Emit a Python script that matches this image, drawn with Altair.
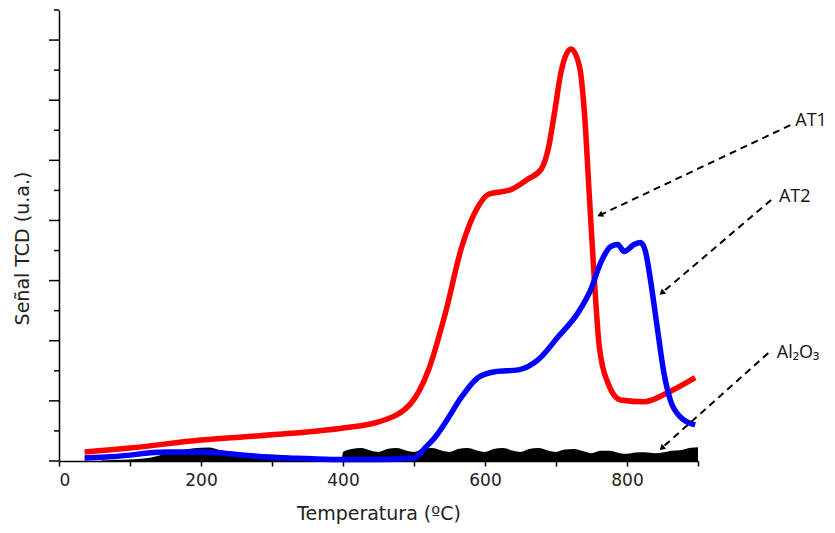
import altair as alt
import pandas as pd

# --- data ---
red_T = [36, 100, 200, 300, 400, 450, 495, 520, 544, 567, 590, 605, 637, 660, 679, 689, 698, 707, 721, 733, 740, 747, 754, 761, 773, 791, 824, 857, 896]
red_v = [0.3, 0.43, 0.7, 0.87, 1.1, 1.3, 1.9, 3.0, 4.9, 7.1, 8.45, 8.87, 9.03, 9.37, 9.7, 10.37, 11.6, 12.93, 13.7, 13.13, 11.6, 8.8, 6.03, 3.8, 2.6, 2.03, 1.97, 2.27, 2.77]

blue_T = [36, 80, 150, 200, 250, 300, 350, 400, 450, 500, 516, 530, 544, 567, 590, 614, 647, 675, 703, 731, 749, 763, 777, 787, 796, 810, 819, 826, 833, 843, 852, 861, 875, 896]
blue_v = [0.1, 0.15, 0.3, 0.3, 0.22, 0.12, 0.08, 0.05, 0.05, 0.1, 0.45, 0.8, 1.27, 2.13, 2.77, 2.97, 3.03, 3.37, 4.13, 4.93, 5.7, 6.6, 7.13, 7.2, 6.97, 7.2, 7.27, 6.97, 6.03, 4.37, 2.93, 2.03, 1.47, 1.2]

black_T = [60, 100, 130, 160, 190, 210, 230, 260, 300, 330, 340, 398, 400, 412, 425, 440, 450, 462, 475, 490, 500, 512, 525, 540, 550, 562, 575, 590, 600, 612, 625, 640, 650, 662, 675, 690, 700, 712, 725, 740, 750, 762, 775, 790, 800, 812, 825, 840, 850, 862, 875, 890, 900]
black_v = [0.02, 0.05, 0.12, 0.3, 0.42, 0.45, 0.35, 0.25, 0.22, 0.17, 0.03, 0.03, 0.3, 0.4, 0.43, 0.34, 0.3, 0.4, 0.43, 0.34, 0.3, 0.4, 0.43, 0.34, 0.3, 0.4, 0.43, 0.34, 0.3, 0.4, 0.43, 0.34, 0.3, 0.4, 0.43, 0.34, 0.3, 0.38, 0.4, 0.32, 0.26, 0.34, 0.34, 0.26, 0.24, 0.28, 0.29, 0.26, 0.28, 0.34, 0.36, 0.44, 0.46]

ann_label = ["AT1", "AT2", "Al₂O₃"]
ann_x0 = [1030, 1003, 999]
ann_y0 = [11.17, 8.68, 3.59]
ann_x1 = [762, 849, 849]
ann_y1 = [8.18, 5.59, 0.43]
ann_angle = [245, 230, 229]
label_x = [1037, 1014, 1011]
label_y = [11.31, 8.78, 3.59]

x_ticks = list(range(0, 1000, 100))
y_major = list(range(0, 16, 2))
y_minor = list(range(1, 16, 2))

red = pd.DataFrame({"T": red_T, "v": red_v})
blue = pd.DataFrame({"T": blue_T, "v": blue_v})
black = pd.DataFrame({"T": black_T, "v": black_v})
ann = pd.DataFrame({"label": ann_label, "x0": ann_x0, "y0": ann_y0, "x1": ann_x1, "y1": ann_y1,
                    "angle": ann_angle, "lx": label_x, "ly": label_y})
ymaj = pd.DataFrame({"v": y_major})
ymin = pd.DataFrame({"v": y_minor})

xscale = alt.Scale(domain=[0, 900], nice=False)
yscale = alt.Scale(domain=[0, 15], nice=False)

FONT = "DejaVu Sans"
xaxis = alt.Axis(values=x_ticks, grid=False, title="Temperatura (ºC)",
                 labelExpr="(datum.value % 200 == 0 && datum.value < 900) ? datum.label : ''",
                 tickSize=5, labelFontSize=17, titleFontSize=19, labelPadding=6,
                 titleY=58, titleBaseline="alphabetic",
                 labelFont=FONT, titleFont=FONT,
                 domainColor="black", tickColor="black", labelColor="#222", titleColor="#222",
                 titleFontWeight="normal", domainWidth=1.5, tickWidth=1.5)
yaxis = alt.Axis(grid=False, labels=False, ticks=False, title="Señal TCD (u.a.)",
                 titleFontSize=19, titleFont=FONT, titleX=-37, titleY=238,
                 titleBaseline="middle", titleAlign="center", titleAngle=270,
                 domainColor="black", titleColor="#222",
                 titleFontWeight="normal", domainWidth=1.5)

base_black = alt.Chart(black).mark_area(color="black", interpolate="monotone").encode(
    x=alt.X("T:Q", scale=xscale, axis=xaxis),
    y=alt.Y("v:Q", scale=yscale, axis=yaxis),
)
major_ticks = alt.Chart(ymaj).mark_rule(color="black", strokeWidth=1.5, clip=False).encode(
    y=alt.Y("v:Q", scale=yscale), x=alt.value(-10), x2=alt.value(0))
minor_ticks = alt.Chart(ymin).mark_rule(color="black", strokeWidth=1.5, clip=False).encode(
    y=alt.Y("v:Q", scale=yscale), x=alt.value(-5), x2=alt.value(0))

red_line = alt.Chart(red).mark_line(color="#ff0000", strokeWidth=5.5, interpolate="monotone").encode(
    x=alt.X("T:Q", scale=xscale), y=alt.Y("v:Q", scale=yscale))
blue_line = alt.Chart(blue).mark_line(color="#0000ff", strokeWidth=5.5, interpolate="monotone").encode(
    x=alt.X("T:Q", scale=xscale), y=alt.Y("v:Q", scale=yscale))

arrows = alt.Chart(ann).mark_rule(color="black", strokeWidth=2, strokeDash=[7, 5], clip=False).encode(
    x=alt.X("x0:Q", scale=xscale), y=alt.Y("y0:Q", scale=yscale),
    x2="x1:Q", y2="y1:Q")
heads = alt.Chart(ann).mark_point(shape="triangle-up", filled=True, color="black", size=45,
                                  opacity=1, clip=False).encode(
    x=alt.X("x1:Q", scale=xscale), y=alt.Y("y1:Q", scale=yscale),
    angle=alt.Angle("angle:Q", scale=None))
labels = alt.Chart(ann).mark_text(align="left", baseline="middle", fontSize=18, font="Open Sans",
                                  color="#111", clip=False).encode(
    x=alt.X("lx:Q", scale=xscale), y=alt.Y("ly:Q", scale=yscale), text="label:N")

chart = alt.layer(base_black, major_ticks, minor_ticks, red_line, blue_line, arrows, heads, labels).properties(
    width=639, height=451,
    autosize=alt.AutoSizeParams(type="none"),
    padding={"left": 51, "top": 2, "right": 129, "bottom": 64},
    background="white",
).configure_view(stroke=None)

chart.save("out.html", embed_options={"renderer": "svg", "actions": False})
